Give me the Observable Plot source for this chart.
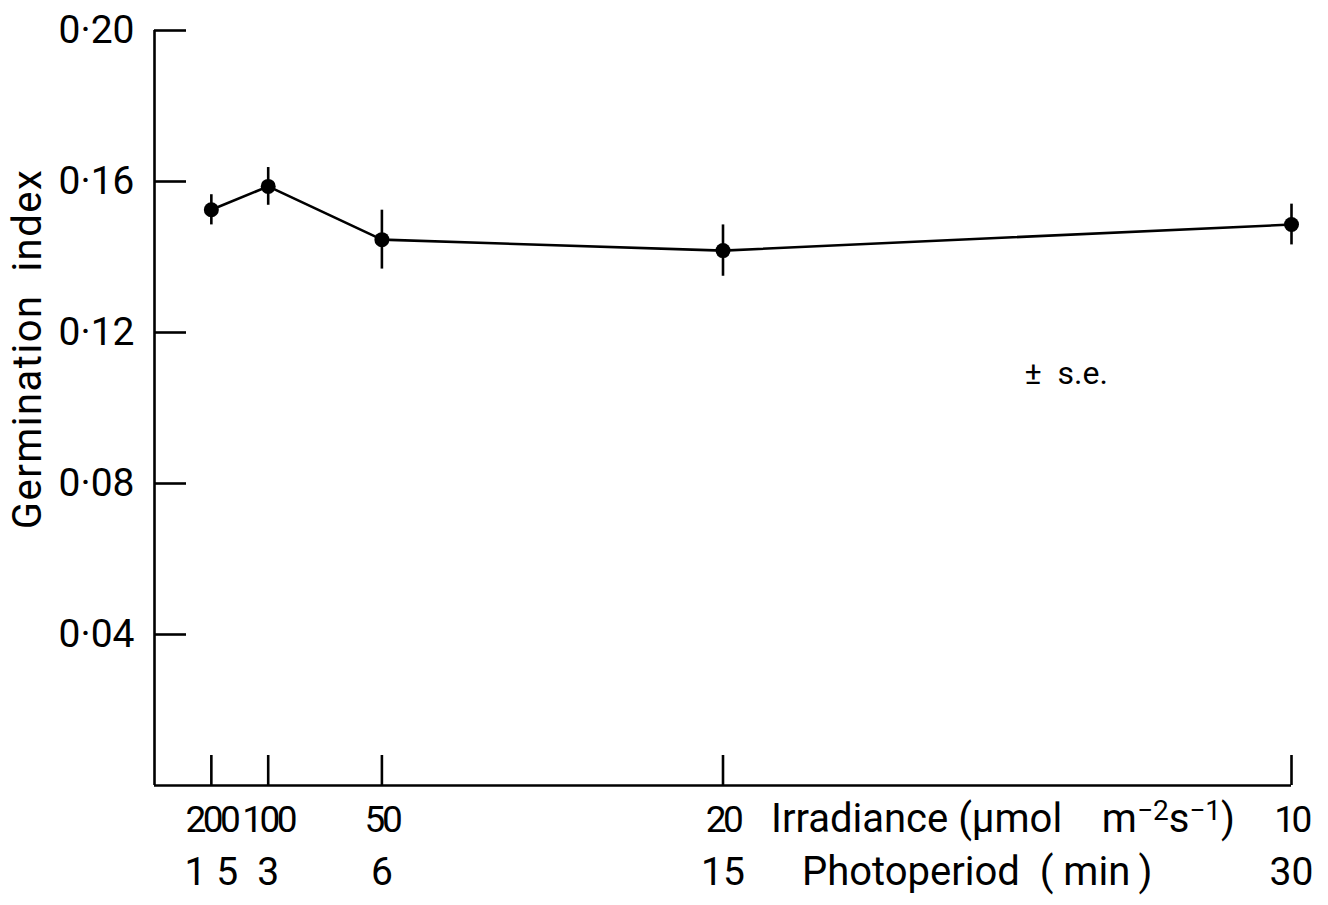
<!DOCTYPE html>
<html>
<head>
<meta charset="utf-8">
<script src="https://cdn.jsdelivr.net/npm/d3@7"></script>
<script src="https://cdn.jsdelivr.net/npm/@observablehq/plot@0.6"></script>
<style>
  html, body { margin: 0; padding: 0; background: #fff; }
  #chart { width: 1328px; height: 905px; }
  svg text { font-family: Roboto, "DejaVu Sans", sans-serif; }
</style>
</head>
<body>
<div id="chart"></div>
<script>
// ---- Data ----
const irradiance = [200, 100, 50, 20, 10];            // µmol m-2 s-1
const photoperiod = [1.5, 3, 6, 15, 30];               // min (constant dose: irradiance × time)
const irradianceLabels = ["200", "100", "50", "20", "10"];
const photoperiodLabels = ["1 5", "3", "6", "15", "30"];
const germinationIndex = [0.1525, 0.1587, 0.1446, 0.1417, 0.1486];
const stdError = [0.0040, 0.0050, 0.0078, 0.0068, 0.0054];
const yTicks = [0.04, 0.08, 0.12, 0.16, 0.20];
// x title 1, split in [text, isSuperscript] pieces
const xTitle1Parts = [["Irradiance (\u03bcmol\u00a0\u00a0\u00a0 m", false], ["\u22122", true], ["s", false], ["\u22121", true], [")", false]];
const xTitle1 = xTitle1Parts.map(p => p[0]).join("");
const xTitle2 = "Photoperiod\u00a0\u00a0(\u00a0min\u2009)";
const yTitle = "Germination\u00a0\u00a0index";
const seNote = "\u00b1\u00a0\u00a0s.e.";

const data = irradiance.map((irr, i) => ({
  irr,
  period: photoperiod[i],
  g: germinationIndex[i],
  se: stdError[i],
  irrLabel: irradianceLabels[i],
  perLabel: photoperiodLabels[i]
}));

const W = 1328, H = 905;
const mL = 154, mR = 37, mT = 30, mB = 120;
const plotW = W - mL - mR, plotH = H - mT - mB;
const sw = 2.6;
const titleSize = 40;

const chart = Plot.plot({
  width: W,
  height: H,
  marginLeft: mL,
  marginRight: mR,
  marginTop: mT,
  marginBottom: mB,
  style: { background: "#fff", color: "#000", fontFamily: "Roboto, 'DejaVu Sans', sans-serif" },
  x: { domain: [0, 30], axis: null },
  y: { domain: [0, 0.2], axis: null },
  marks: [
    // axis lines
    Plot.ruleX([0], { stroke: "#000", strokeWidth: sw }),
    Plot.ruleY([0], { stroke: "#000", strokeWidth: sw }),
    // inward ticks
    Plot.ruleY(yTicks, { stroke: "#000", strokeWidth: sw, insetRight: plotW - 32 }),
    Plot.ruleX(data, { x: "period", stroke: "#000", strokeWidth: sw, insetTop: plotH - 30 }),
    // y tick labels
    Plot.axisY({
      ticks: yTicks, tickSize: 0, tickPadding: 20, label: null,
      tickFormat: d => d.toFixed(2).replace(".", "\u00b7"),
      fontSize: 39, fill: "#000"
    }),
    // x tick labels (two rows)
    Plot.text(data, { x: "period", text: "irrLabel", frameAnchor: "bottom", lineAnchor: "bottom", dy: 46, fontSize: 37, fill: "#000" }),
    Plot.text(data, { x: "period", text: "perLabel", frameAnchor: "bottom", lineAnchor: "bottom", dy: 99, fontSize: 39, fill: "#000" }),
    // axis titles
    Plot.text([xTitle1], { frameAnchor: "bottom", textAnchor: "start", lineAnchor: "bottom", dx: 48, dy: 46, fontSize: titleSize, fill: "#000" }),
    Plot.text([xTitle2], { frameAnchor: "bottom", textAnchor: "start", lineAnchor: "bottom", dx: 79, dy: 99, fontSize: titleSize, fill: "#000" }),
    Plot.text([yTitle], { frameAnchor: "left", rotate: -90, textAnchor: "middle", lineAnchor: "middle", dx: -126, dy: -59, fontSize: titleSize, fill: "#000" }),
    // annotation
    Plot.text([seNote], { frameAnchor: "top-right", textAnchor: "start", lineAnchor: "bottom", dx: -267, dy: 353, fontSize: 32, fill: "#000" }),
    // data
    Plot.ruleX(data, { x: "period", y1: d => d.g - d.se, y2: d => d.g + d.se, stroke: "#000", strokeWidth: sw }),
    Plot.line(data, { x: "period", y: "g", stroke: "#000", strokeWidth: sw }),
    Plot.dot(data, { x: "period", y: "g", r: 7.5, fill: "#000", stroke: "none" })
  ]
});

const root = d3.select(chart);

// tighter digits for the crowded irradiance tick labels
root.selectAll("text").filter(function () { return irradianceLabels.includes(this.textContent); })
  .style("letter-spacing", "-3.5px");

// letter-spaced y title, like the reference lettering
root.selectAll("text").filter(function () { return this.textContent === yTitle; })
  .style("letter-spacing", "1.5px");

// rebuild the irradiance title with real superscripts
root.selectAll("text").filter(function () { return this.textContent === xTitle1; })
  .each(function () {
    const el = d3.select(this);
    el.text(null);
    let raised = false;
    const supSize = 28;
    const shift = 12;
    for (const [s, sup] of xTitle1Parts) {
      const t = el.append("tspan").text(s);
      if (sup && !raised) { t.attr("font-size", supSize).attr("dy", -shift); raised = true; }
      else if (!sup && raised) { t.attr("dy", shift); raised = false; }
      else if (sup) { t.attr("font-size", supSize); }
    }
  });

document.getElementById("chart").appendChild(chart);
</script>
</body>
</html>
